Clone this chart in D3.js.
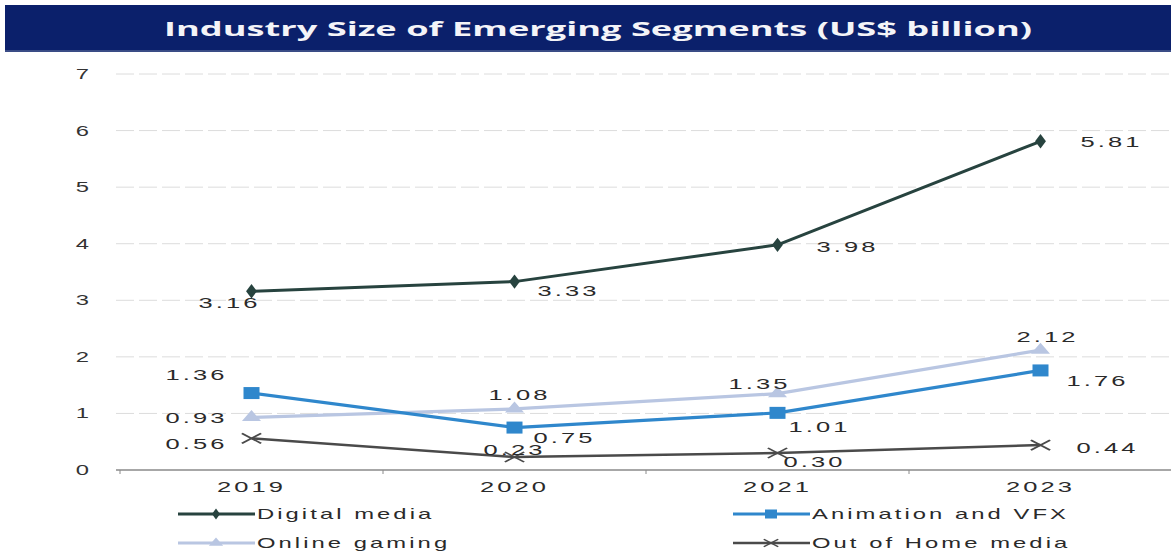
<!DOCTYPE html>
<html><head><meta charset="utf-8">
<script src="https://cdn.jsdelivr.net/npm/d3@7"></script>
<style>
html,body{margin:0;padding:0;background:#fff;}
svg{display:block;font-family:"Liberation Sans",Arial,sans-serif;}
</style></head>
<body>
<svg id="chart" width="1171" height="552"></svg>
<script>
const title = "Industry Size of Emerging Segments (US$ billion)";
const years = ["2019", "2020", "2021", "2023"];
const yTicks = [0, 1, 2, 3, 4, 5, 6, 7];
const digitalMedia = [3.16, 3.33, 3.98, 5.81];
const animationVFX = [1.36, 0.75, 1.01, 1.76];
const onlineGaming = [0.93, 1.08, 1.35, 2.12];
const outOfHome = [0.56, 0.23, 0.30, 0.44];
const seriesNames = ["Digital media", "Animation and VFX", "Online gaming", "Out of Home media"];

// label offsets (style) per series per point [dx, dy]
const labelOffsets = [
  [[-22, 11], [54, 9], [70, 2], [71, 0]],
  [[-55, -18], [50, 10], [42, 14], [57, 10]],
  [[-55, 0], [5, -14], [-18, -10], [7, -13]],
  [[-55, 5], [0, -7], [37, 9], [67, 3]]
];

const series = [
  {name: seriesNames[0], values: digitalMedia, color: "#27433f", width: 3, marker: "diamond"},
  {name: seriesNames[1], values: animationVFX, color: "#2f87cc", width: 3.2, marker: "square"},
  {name: seriesNames[2], values: onlineGaming, color: "#b9c6e2", width: 3.2, marker: "triangle"},
  {name: seriesNames[3], values: outOfHome, color: "#4a4a4a", width: 2.5, marker: "x"}
];
const drawOrder = [2, 1, 3, 0];

const svg = d3.select("#chart");
const W = 1171, H = 552;
const SX = 1.7;

svg.append("rect").attr("x", 5).attr("y", 5).attr("width", W - 5).attr("height", 47).attr("fill", "#0b206b");
svg.append("rect").attr("x", 5).attr("y", 50).attr("width", W - 5).attr("height", 2).attr("fill", "#3a4c86");
svg.append("text").attr("x", 598).attr("y", 36).attr("text-anchor", "middle")
  .attr("fill", "#f4f4f8").attr("font-size", 19).attr("font-weight", "bold")
  .attr("textLength", 868).attr("lengthAdjust", "spacingAndGlyphs")
  .style("font-family", "'Open Sans','Liberation Sans',sans-serif")
  .text(title);

const x = d3.scaleBand().domain(years).range([120, 1172]);
const y = d3.scaleLinear().domain([0, 7]).range([470, 74]);
const cx = d => x(d) + x.bandwidth() / 2;

function sText(g, tx, ty, str, anchor, size, color) {
  return g.append("text")
    .attr("transform", `translate(${tx},${ty}) scale(${SX},1)`)
    .attr("text-anchor", anchor || "middle")
    .attr("dominant-baseline", "central")
    .attr("font-size", size || 15)
    .attr("letter-spacing", 1.8)
    .attr("fill", color || "#2a2a2a")
    .text(str);
}

const grid = svg.append("g");
grid.selectAll("line").data(yTicks.filter(t => t > 0)).join("line")
  .attr("x1", 116).attr("x2", W).attr("y1", d => y(d)).attr("y2", d => y(d))
  .attr("stroke", "#dcdcdc").attr("stroke-width", 1).attr("stroke-dasharray", "18,5");

const yl = svg.append("g");
yTicks.forEach(t => sText(yl, 92, y(t), String(t), "end", 14, "#333"));

const xa = svg.append("g").attr("transform", `translate(0,${y(0)})`);
xa.append("line").attr("x1", 116).attr("x2", W).attr("stroke", "#8a8a8a").attr("stroke-width", 1.5);
xa.selectAll("line.tk").data(years.map(d => x(d))).join("line").attr("class", "tk")
  .attr("x1", d => d).attr("x2", d => d).attr("y1", 0).attr("y2", 4)
  .attr("stroke", "#8a8a8a").attr("stroke-width", 1);
years.forEach(yr => sText(xa, cx(yr), 17, yr, "middle", 15, "#2a2a2a"));

function drawMarker(g, type, px, py, color, scale) {
  const s = scale || 1;
  if (type === "diamond") {
    g.append("path").attr("transform", `translate(${px},${py}) scale(${1.3 * s},${s})`)
      .attr("d", d3.symbol(d3.symbolDiamond, 60)()).attr("fill", color);
  } else if (type === "square") {
    g.append("rect").attr("x", px - 8 * s).attr("y", py - 6 * s).attr("width", 16 * s).attr("height", 12 * s).attr("fill", color);
  } else if (type === "triangle") {
    g.append("path").attr("transform", `translate(${px},${py}) scale(${1.5 * s},${s})`)
      .attr("d", d3.symbol(d3.symbolTriangle, 70)()).attr("fill", color);
  } else if (type === "x") {
    g.append("path").attr("transform", `translate(${px},${py}) scale(${1.6 * s},${s})`)
      .attr("d", "M-6,-5L6,5M-6,5L6,-5").attr("stroke", color).attr("stroke-width", 1.5).attr("fill", "none");
  }
}

const line = d3.line().x((d, i) => cx(years[i])).y(d => y(d));
const plot = svg.append("g");
drawOrder.forEach(si => {
  const s = series[si];
  plot.append("path").datum(s.values).attr("d", line).attr("fill", "none")
    .attr("stroke", s.color).attr("stroke-width", s.width).attr("stroke-linejoin", "round");
  s.values.forEach((v, i) => drawMarker(plot, s.marker, cx(years[i]), y(v), s.color));
});

const lab = svg.append("g");
series.forEach((s, si) => {
  s.values.forEach((v, i) => {
    const [dx, dy] = labelOffsets[si][i];
    sText(lab, cx(years[i]) + dx, y(v) + dy, v.toFixed(2), "middle", 15, "#2a2a2a");
  });
});

const leg = svg.append("g");
const legPos = [[178, 514], [733, 514], [178, 543], [733, 543]];
series.forEach((s, si) => {
  const [lx, ly] = legPos[si];
  leg.append("line").attr("x1", lx).attr("x2", lx + 77).attr("y1", ly).attr("y2", ly)
    .attr("stroke", s.color).attr("stroke-width", s.width);
  drawMarker(leg, s.marker, lx + 38, ly, s.color, 0.75);
  sText(leg, lx + 79, ly, s.name, "start", 14, "#2a2a2a");
});
</script>
</body></html>
